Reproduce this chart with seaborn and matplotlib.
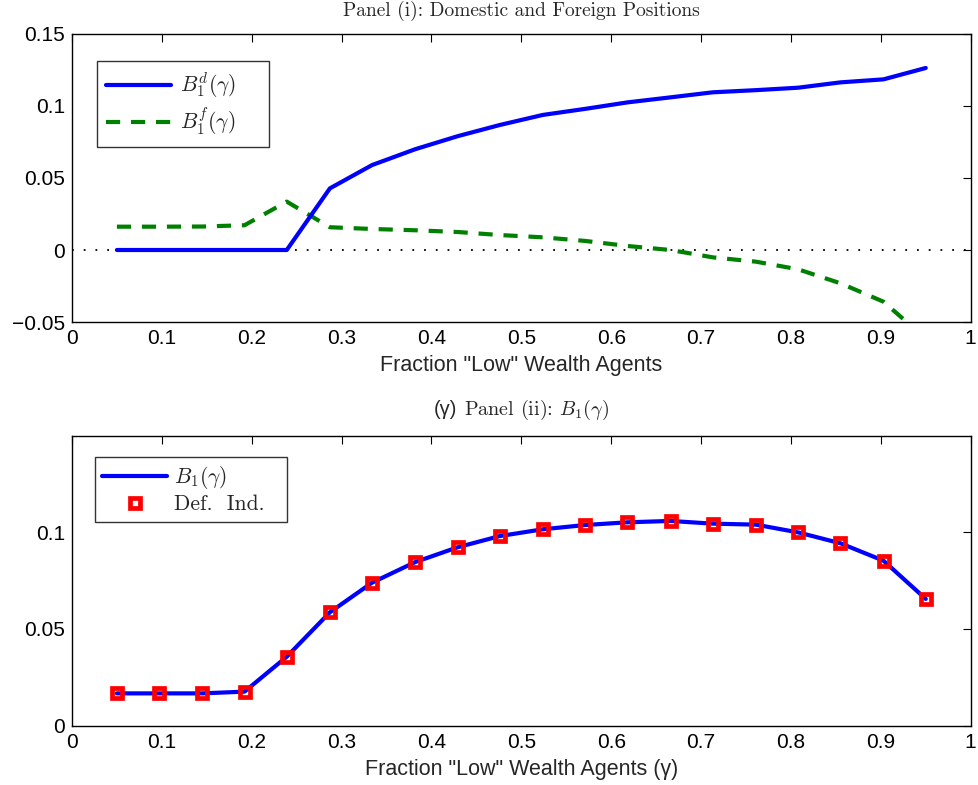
import matplotlib
matplotlib.use("Agg")
import matplotlib.pyplot as plt
import seaborn as sns
import pandas as pd
from matplotlib.offsetbox import TextArea, HPacker, AnchoredOffsetbox

# fraction of "low" wealth agents (20 grid points)
gamma = [0.050, 0.097, 0.145, 0.192, 0.239, 0.287, 0.334, 0.382, 0.429, 0.476,
         0.524, 0.571, 0.618, 0.666, 0.713, 0.761, 0.808, 0.855, 0.903, 0.950]

# Panel (i): domestic and foreign positions
b1_dom = [0.0, 0.0, 0.0, 0.0, 0.0, 0.0428, 0.0590, 0.0700, 0.0790, 0.0868,
          0.0938, 0.0980, 0.1025, 0.1060, 0.1095, 0.1110, 0.1127, 0.1164, 0.1185, 0.1264]
b1_for = [0.0162, 0.0162, 0.0163, 0.0172, 0.0336, 0.0158, 0.0146, 0.0137, 0.0125, 0.0104,
          0.0088, 0.0063, 0.0028, 0.0000, -0.0051, -0.0081, -0.0134, -0.0231, -0.0359, -0.0616]

# Panel (ii): B1 and default indicator
b1_tot = [0.0168, 0.0168, 0.0168, 0.0177, 0.0357, 0.0586, 0.0739, 0.0845, 0.0921, 0.0979,
          0.1014, 0.1036, 0.1050, 0.1057, 0.1043, 0.1038, 0.0998, 0.0942, 0.0852, 0.0655]
def_ind = b1_tot

xticks = [0, 0.1, 0.2, 0.3, 0.4, 0.5, 0.6, 0.7, 0.8, 0.9, 1]
xticklabels = ["0", "0.1", "0.2", "0.3", "0.4", "0.5", "0.6", "0.7", "0.8", "0.9", "1"]

sns.set_theme(style="white")
plt.rcParams['font.family'] = ['Liberation Sans', 'DejaVu Sans']
plt.rcParams['mathtext.fontset'] = 'cm'
plt.rcParams['axes.unicode_minus'] = True

df = pd.DataFrame({"gamma": gamma, "dom": b1_dom, "for": b1_for, "tot": b1_tot, "ind": def_ind})

fig = plt.figure(figsize=(9.79, 7.85), dpi=100)
ax1 = fig.add_axes([0.0735, 0.5898, 0.918, 0.3669])
ax2 = fig.add_axes([0.0735, 0.0752, 0.918, 0.3694])

TEXFONT = ['cmr10', 'DejaVu Serif']
leg_prop = {"family": TEXFONT, "size": 15.5}

# ---- Panel (i)
ax1.axhline(0, color="black", ls=(0, (1, 5.5)), lw=1.3, zorder=1)
sns.lineplot(data=df, x="gamma", y="dom", ax=ax1, color="#0000ff", lw=3,
             label=r"$B_1^d(\gamma)$    ", zorder=3)
sns.lineplot(data=df, x="gamma", y="for", ax=ax1, color="#008000", lw=3,
             label=r"$B_1^f(\gamma)$    ", zorder=2)
ax1.lines[-1].set_dashes((3.4, 2.6))
ax1.set_xlim(0, 1)
ax1.set_ylim(-0.05, 0.15)
ax1.set_yticks([-0.05, 0, 0.05, 0.1, 0.15])
ax1.set_yticklabels(["\u22120.05", "0", "0.05", "0.1", "0.15"])
ax1.set_title("Panel (i): Domestic and Foreign Positions", fontsize=14,
              family=TEXFONT, pad=13)
ax1.set_xlabel('Fraction "Low" Wealth Agents', fontsize=15.5, labelpad=5)
ax1.set_ylabel("")
leg1 = ax1.legend(loc="upper left", bbox_to_anchor=(0.0276, 0.906), prop=leg_prop,
                  frameon=True, fancybox=False, handlelength=3.0, borderpad=0.45,
                  labelspacing=0.25, handletextpad=0.4, borderaxespad=0)

# ---- Panel (ii)
sns.lineplot(data=df, x="gamma", y="tot", ax=ax2, color="#0000ff", lw=3,
             label=r"$B_1(\gamma)$", zorder=2)
sns.lineplot(data=df, x="gamma", y="ind", ax=ax2, color="red", linestyle="",
             marker="s", markersize=7.8, markerfacecolor="none", markeredgecolor="red",
             markeredgewidth=3.4, label="Def.  Ind.  ", zorder=3)
ax2.set_xlim(0, 1)
ax2.set_ylim(0, 0.1495)
ax2.set_yticks([0, 0.05, 0.1])
ax2.set_yticklabels(["0", "0.05", "0.1"])
ax2.set_xlabel('Fraction "Low" Wealth Agents (γ)', fontsize=15.5, labelpad=5)
ax2.set_ylabel("")
leg2 = ax2.legend(loc="upper left", bbox_to_anchor=(0.0254, 0.928), prop=leg_prop,
                  frameon=True, fancybox=False, handlelength=3.0, borderpad=0.35,
                  labelspacing=0.15, handletextpad=0.35, borderaxespad=0)

# title of panel (ii): sans "(γ)" followed by TeX-like text
title_box = HPacker(children=[
    TextArea("(γ)", textprops=dict(fontsize=14.5, family=['Liberation Sans'])),
    TextArea(r"Panel (ii): $B_1(\gamma)$", textprops=dict(fontsize=14.5, family=TEXFONT)),
], align="baseline", pad=0, sep=5)
anch = AnchoredOffsetbox(loc="lower center", child=title_box, frameon=False,
                         bbox_to_anchor=(0.5, 1.0), bbox_transform=ax2.transAxes,
                         borderpad=0.9, pad=0)
ax2.add_artist(anch)

for leg in (leg1, leg2):
    leg.get_frame().set_edgecolor("black")
    leg.get_frame().set_linewidth(1.0)

for ax in (ax1, ax2):
    ax.set_xticks(xticks)
    ax.set_xticklabels(xticklabels)
    ax.tick_params(direction="in", length=6, width=0.8, top=True, right=True,
                   labelsize=15, colors="black", pad=5)
    for sp in ax.spines.values():
        sp.set_visible(True)
        sp.set_color("black")
        sp.set_linewidth(1.0)

fig.savefig("out.png", dpi=100)
